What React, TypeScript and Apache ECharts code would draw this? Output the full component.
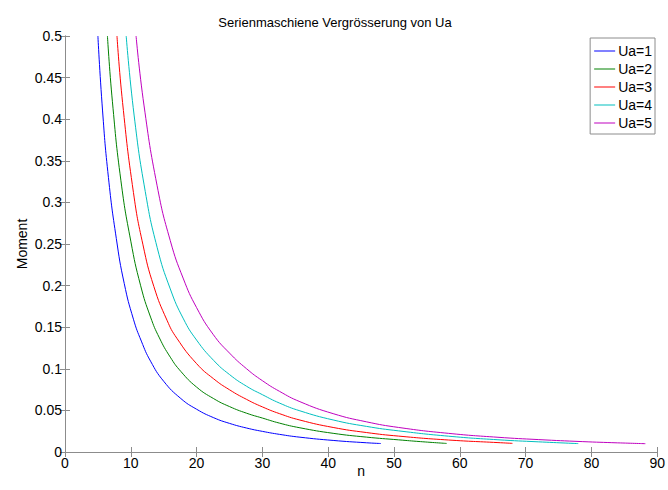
import React, { useEffect, useRef } from "react";
import * as echarts from "echarts";

const seriesNames = ["Ua=1", "Ua=2", "Ua=3", "Ua=4", "Ua=5"];
const seriesColors = ["#0000ff", "#008000", "#ff0000", "#00bfbf", "#bf00bf"];

const ua1: number[][] = [
  [5, 0.5], [5.7, 0.411], [6.6, 0.33], [7.8, 0.2566], [9, 0.2026], [10.4, 0.1596],
  [11.6, 0.1333], [13, 0.1092], [15, 0.085], [17.6, 0.0643], [20, 0.0514], [22.6, 0.0412],
  [25, 0.0344], [27.6, 0.0288], [30, 0.0248], [32.6, 0.0212], [35.7, 0.0178], [40.75, 0.0139],
  [45.8, 0.0111], [48, 0.0102],
];
const ua2: number[][] = [
  [6.45, 0.5], [7.2, 0.4216], [8.5, 0.326], [10, 0.2534], [11.5, 0.1998], [13, 0.1622],
  [14.35, 0.1371], [16, 0.114], [17.6, 0.0969], [20, 0.078], [22.6, 0.0641], [25, 0.0546],
  [27.6, 0.0466], [30, 0.0408], [32.6, 0.0347], [35.7, 0.0291], [40.75, 0.02245], [45.8, 0.0179],
  [50.7, 0.0146], [54, 0.0125], [58, 0.0103],
];
const ua3: number[][] = [
  [7.9, 0.5], [8.75, 0.42], [10.4, 0.312], [11.85, 0.249], [13.5, 0.199], [15.5, 0.1584],
  [17, 0.1367], [20, 0.1062], [22.6, 0.0879], [25, 0.0748], [27.6, 0.0632], [30, 0.0542],
  [32.6, 0.0461], [35.7, 0.0384], [40.75, 0.0295], [45.8, 0.0234], [50.7, 0.0191], [58.3, 0.0144],
  [65.8, 0.0113], [68, 0.0104],
];
const ua4: number[][] = [
  [9.3, 0.5], [10.5, 0.405], [12.2, 0.313], [14, 0.246], [16, 0.196], [18, 0.16],
  [20, 0.1345], [22.6, 0.11], [25, 0.0931], [27.6, 0.079], [30, 0.0689], [32.6, 0.0588],
  [35.7, 0.0495], [40.75, 0.0385], [45.8, 0.0308], [50.7, 0.0254], [58.3, 0.019], [65.8, 0.0147],
  [72, 0.0122], [78, 0.0101],
];
const ua5: number[][] = [
  [10.8, 0.5], [12, 0.417], [14, 0.32], [16, 0.254], [18, 0.208], [20, 0.1735],
  [22.5, 0.1415], [25, 0.1189], [27.6, 0.1], [30, 0.0857], [32.6, 0.0729], [35.7, 0.0605],
  [40.75, 0.0461], [45.8, 0.0363], [50.7, 0.0295], [58.3, 0.0224], [65.8, 0.0177], [72, 0.0149],
  [78.6, 0.0125], [84, 0.011], [88.2, 0.01],
];
const seriesData = [ua1, ua2, ua3, ua4, ua5];

const FONT = "Liberation Sans, Arial, Helvetica, sans-serif";
const AXIS_COLOR = "#8c8c8c";

export default function App() {
  const ref = useRef<HTMLDivElement>(null);
  useEffect(() => {
    if (!ref.current) return;
    const chart = echarts.init(ref.current, null, { renderer: "svg" });
    const fmt = (v: number) => String(Math.round(v * 100) / 100);
    const axisCommon = {
      axisLine: { show: true, lineStyle: { color: AXIS_COLOR, width: 1 } },
      axisTick: { show: true, inside: true, length: 5, lineStyle: { color: AXIS_COLOR } },
      splitLine: { show: false },
    };
    chart.setOption({
      animation: false,
      backgroundColor: "#ffffff",
      title: {
        text: "Serienmaschiene Vergrösserung von Ua",
        left: 330,
        top: 11,
        textAlign: "center",
        textStyle: { fontFamily: FONT, fontSize: 13, fontWeight: "normal", color: "#000" },
      },
      grid: { left: 65, right: 10, top: 36, bottom: 38, containLabel: false },
      legend: {
        orient: "vertical",
        right: 13,
        top: 38,
        icon: "rect",
        itemWidth: 21,
        itemHeight: 1,
        itemGap: 4,
        padding: [6, 3, 4, 4],
        borderColor: AXIS_COLOR,
        borderWidth: 1,
        backgroundColor: "#ffffff",
        textStyle: { fontFamily: FONT, fontSize: 14, color: "#000", padding: [0, 0, 0, -2] },
        data: seriesNames,
      },
      xAxis: [
        {
          type: "value",
          min: 0,
          max: 90,
          interval: 10,
          name: "n",
          nameLocation: "middle",
          nameGap: 12,
          nameMoveOverlap: false,
          nameTextStyle: { fontFamily: FONT, fontSize: 14, color: "#000", verticalAlign: "top" },
          axisLabel: { fontFamily: FONT, fontSize: 14, color: "#000", margin: 4 },
          ...axisCommon,
        },
        {
          type: "value",
          position: "top",
          min: 0,
          max: 90,
          interval: 10,
          axisLabel: { show: false },
          ...axisCommon,
        },
      ],
      yAxis: [
        {
          type: "value",
          min: 0,
          max: 0.5,
          interval: 0.05,
          name: "Moment",
          nameLocation: "middle",
          nameGap: 36,
          nameMoveOverlap: false,
          nameTextStyle: { fontFamily: FONT, fontSize: 14, color: "#000" },
          axisLabel: { fontFamily: FONT, fontSize: 14, color: "#000", margin: 3, formatter: fmt },
          ...axisCommon,
        },
        {
          type: "value",
          position: "right",
          min: 0,
          max: 0.5,
          interval: 0.05,
          axisLabel: { show: false },
          ...axisCommon,
        },
      ],
      series: seriesNames.map((name, i) => ({
        name,
        type: "line",
        data: seriesData[i],
        symbol: "none",
        smooth: 0.5,
        color: seriesColors[i],
        lineStyle: { width: 1, color: seriesColors[i] },
        clip: true,
      })),
    });
    return () => chart.dispose();
  }, []);
  return <div ref={ref} style={{ width: 668, height: 490, position: "fixed", left: 0, top: 0 }} />;
}
